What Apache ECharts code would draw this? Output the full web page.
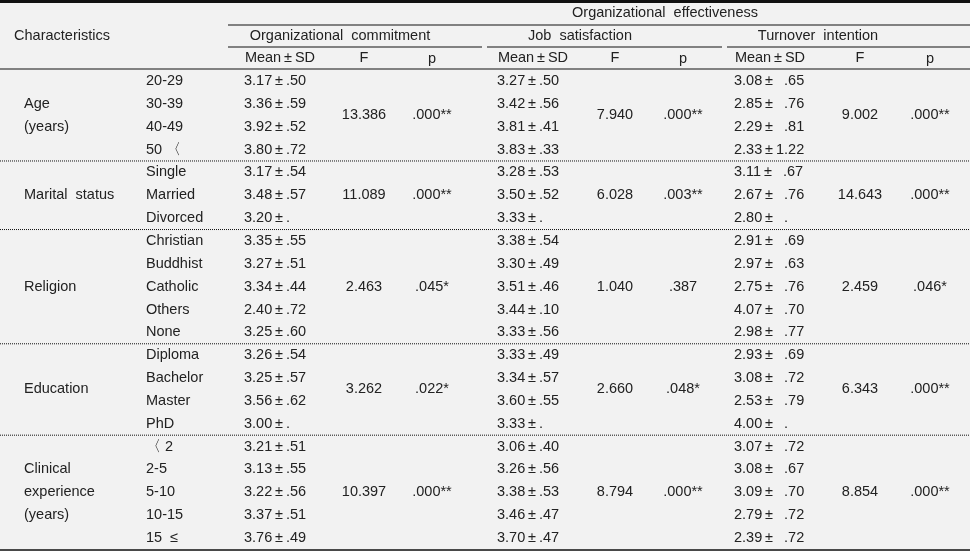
<!DOCTYPE html>
<html><head><meta charset="utf-8">
<script src="https://cdn.jsdelivr.net/npm/echarts@6/dist/echarts.min.js"></script>
<style>html,body{margin:0;padding:0;background:#f2f2f2}#c{width:970px;height:551px}</style>
</head><body><div id="c"></div>
<script>
const groups = [
  {name:["Age","(years)"], items:["20-29","30-39","40-49","50 〈"]},
  {name:["Marital  status"], items:["Single","Married","Divorced"]},
  {name:["Religion"], items:["Christian","Buddhist","Catholic","Others","None"]},
  {name:["Education"], items:["Diploma","Bachelor","Master","PhD"]},
  {name:["Clinical","experience","(years)"], items:["〈 2","2-5","5-10","10-15","15  ≤"]}
];
const commitMean = ["3.17±.50","3.36±.59","3.92±.52","3.80±.72","3.17±.54","3.48±.57","3.20±.","3.35±.55","3.27±.51","3.34±.44","2.40±.72","3.25±.60","3.26±.54","3.25±.57","3.56±.62","3.00±.","3.21±.51","3.13±.55","3.22±.56","3.37±.51","3.76±.49"];
const commitF = ["13.386","11.089","2.463","3.262","10.397"];
const commitP = [".000**",".000**",".045*",".022*",".000**"];
const jobMean = ["3.27±.50","3.42±.56","3.81±.41","3.83±.33","3.28±.53","3.50±.52","3.33±.","3.38±.54","3.30±.49","3.51±.46","3.44±.10","3.33±.56","3.33±.49","3.34±.57","3.60±.55","3.33±.","3.06±.40","3.26±.56","3.38±.53","3.46±.47","3.70±.47"];
const jobF = ["7.940","6.028","1.040","2.660","8.794"];
const jobP = [".000**",".003**",".387",".048*",".000**"];
const turnMean = ["3.08±  .65","2.85±  .76","2.29±  .81","2.33±1.22","3.11±  .67","2.67±  .76","2.80±  .","2.91±  .69","2.97±  .63","2.75±  .76","4.07±  .70","2.98±  .77","2.93±  .69","3.08±  .72","2.53±  .79","4.00±  .","3.07±  .72","3.08±  .67","3.09±  .70","2.79±  .72","2.39±  .72"];
const turnF = ["9.002","14.643","2.459","6.343","8.854"];
const turnP = [".000**",".000**",".046*",".000**",".000**"];

const pm = s => s.replace('±','\u2009±\u2009');
const els = [];
const font = '14.5px "Liberation Sans", Arial, sans-serif';
const col = '#222';
function txt(x,y,s,align){els.push({type:'text',x:x,y:y,style:{text:s,font:font,fill:col,align:align||'center',verticalAlign:'middle'}});}
function line(x1,y1,x2,y2,w,dash){els.push({type:'line',shape:{x1,y1,x2,y2},style:{stroke:'#111',lineWidth:w||1,lineDash:dash||null}});}

line(0,1.5,970,1.5,3);
txt(665,13,"Organizational  effectiveness");
line(228,25,970,25,1);
txt(62,36,"Characteristics");
txt(340,36,"Organizational  commitment");
txt(580,36,"Job  satisfaction");
txt(818,36,"Turnover  intention");
line(228,47,482,47,1); line(487,47,722,47,1); line(727,47,970,47,1);
const cols = [
  {m:280,f:364,p:432,mean:commitMean,F:commitF,P:commitP},
  {m:533,f:615,p:683,mean:jobMean,F:jobF,P:jobP},
  {m:770,f:860,p:930,mean:turnMean,F:turnF,P:turnP}
];
cols.forEach(c=>{txt(c.m,58,pm("Mean±SD"));txt(c.f,58,"F");txt(c.p,59,"p");});
line(0,69,970,69,1);
const y0=81, step=22.85;
let r=0;
groups.forEach((g,gi)=>{
  const n=g.items.length;
  const cy=y0+step*(r+(n-1)/2);
  g.name.forEach((s,k)=>txt(24,cy+(k-(g.name.length-1)/2)*step,s,'left'));
  g.items.forEach((s,k)=>txt(146,y0+step*(r+k),s,'left'));
  cols.forEach(c=>{
    for(let k=0;k<n;k++) txt(c.m-36,y0+step*(r+k),pm(c.mean[r+k]),'left');
    txt(c.f,cy,c.F[gi]); txt(c.p,cy,c.P[gi]);
  });
  r+=n;
  if(gi<groups.length-1) line(0,y0+step*(r-0.5),970,y0+step*(r-0.5),1,[1,1]);
});
line(0,550,970,550,1.5);
const chart=echarts.init(document.getElementById('c'));
chart.setOption({backgroundColor:'#f2f2f2',graphic:{elements:els}});
</script></body></html>
